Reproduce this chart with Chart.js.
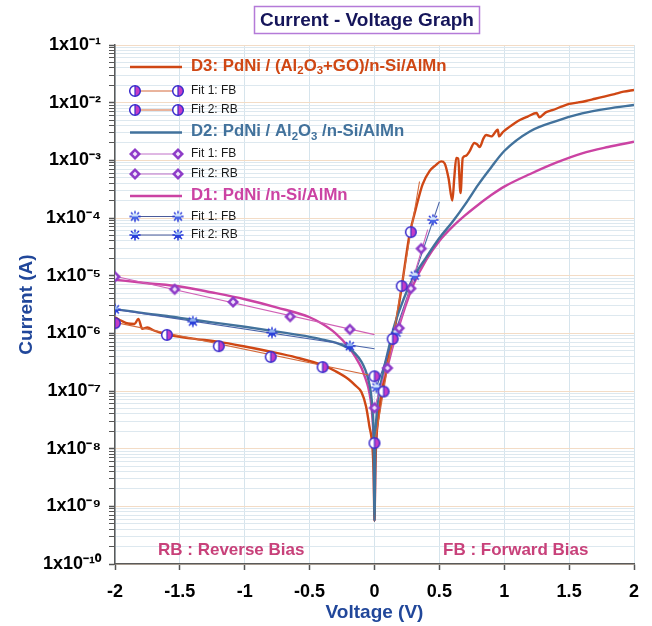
<!DOCTYPE html>
<html><head><meta charset="utf-8">
<script src="https://cdn.jsdelivr.net/npm/chart.js@4.4.1/dist/chart.umd.min.js"></script>
<style>html,body{margin:0;padding:0;background:#fff}#wrap{width:652px;height:626px;position:relative}</style>
</head><body><div id="wrap"><canvas id="c" width="652" height="626"></canvas></div>
<script>
// ---------------- DATA ----------------
const xTickValues = [-2, -1.5, -1, -0.5, 0, 0.5, 1, 1.5, 2];
const yDecades = [-10, -9, -8, -7, -6, -5, -4, -3, -2, -1];

// D1: PdNi /n-Si/AlMn (magenta)
const d1Voltage = [-2, -1.75, -1.5, -1.25, -1.0, -0.75, -0.5, -0.4, -0.3, -0.2, -0.15, -0.1, -0.07, -0.05, -0.03, -0.015, -0.006, 0,
  0.006, 0.015, 0.03, 0.05, 0.075, 0.1, 0.15, 0.2, 0.25, 0.3, 0.4, 0.5, 0.6, 0.7, 0.8, 0.9, 1.0, 1.2, 1.4, 1.6, 1.8, 2.0];
const d1Current = [8.5e-6, 7.4e-6, 6.5e-6, 5.1e-6, 3.9e-6, 2.8e-6, 1.9e-6, 1.45e-6, 1.0e-6, 5.8e-7, 4.0e-7, 2.5e-7, 1.65e-7, 1.2e-7, 7e-8, 3.2e-8, 1e-8, 5.6e-10,
  6.3e-9, 1.6e-8, 4e-8, 8e-8, 1.5e-7, 2.6e-7, 7e-7, 1.6e-6, 3.5e-6, 7e-6, 1.9e-5, 4e-5, 7e-5, 1.12e-4, 1.7e-4, 2.5e-4, 3.5e-4, 5.8e-4, 9.1e-4, 1.32e-3, 1.7e-3, 2.1e-3];

// D2: PdNi / Al2O3 /n-Si/AlMn (steel blue)
const d2Voltage = [-2, -1.9, -1.75, -1.6, -1.5, -1.25, -1.0, -0.75, -0.5, -0.4, -0.3, -0.2, -0.15, -0.1, -0.07, -0.05, -0.03, -0.015, -0.006, 0,
  0.006, 0.015, 0.03, 0.05, 0.075, 0.1, 0.15, 0.2, 0.25, 0.3, 0.4, 0.5, 0.6, 0.7, 0.8, 0.9, 1.0, 1.2, 1.4, 1.6, 1.8, 2.0];
const d2Current = [2.6e-6, 2.45e-6, 2.2e-6, 2.0e-6, 1.85e-6, 1.55e-6, 1.3e-6, 1.07e-6, 8.7e-7, 7.8e-7, 6.9e-7, 5.5e-7, 4.5e-7, 3.2e-7, 2.3e-7, 1.65e-7, 1e-7, 4.5e-8, 1.25e-8, 5.6e-10,
  1.25e-8, 3.5e-8, 8e-8, 1.4e-7, 2.6e-7, 4.5e-7, 1.3e-6, 2.8e-6, 5.4e-6, 9.3e-6, 2.1e-5, 4.5e-5, 8.5e-5, 1.74e-4, 3.8e-4, 7.6e-4, 1.45e-3, 3.2e-3, 4.8e-3, 6.5e-3, 7.9e-3, 9.1e-3];

// D3: PdNi / (Al2O3+GO)/n-Si/AlMn (orange-red)
const d3Voltage = [-2, -1.95, -1.9, -1.85, -1.82, -1.79, -1.75, -1.7, -1.6, -1.4, -1.2, -1.0, -0.8, -0.6, -0.4, -0.3, -0.2, -0.15, -0.1, -0.065, -0.04, -0.015, -0.006, 0,
  0.006, 0.015, 0.03, 0.06, 0.1, 0.14, 0.18, 0.21, 0.24, 0.27, 0.3, 0.32, 0.37, 0.424, 0.47, 0.514, 0.54, 0.57, 0.6, 0.615, 0.63, 0.645, 0.663, 0.68, 0.705, 0.73, 0.77, 0.79, 0.81, 0.84, 0.86, 0.9, 0.95, 0.96, 0.99, 1.04, 1.08, 1.12, 1.18, 1.25, 1.27, 1.32, 1.37, 1.44, 1.5, 1.56, 1.63, 1.7, 1.76, 1.85, 1.92, 2.0];
const d3Current = [1.9e-6, 1.65e-6, 1.48e-6, 1.45e-6, 1.78e-6, 1.2e-6, 1.26e-6, 1.12e-6, 9.5e-7, 8.1e-7, 7.1e-7, 5.9e-7, 4.8e-7, 3.8e-7, 2.8e-7, 2.2e-7, 1.6e-7, 1.26e-7, 9.5e-8, 5.4e-8, 2.5e-8, 1e-8, 3.2e-9, 5.6e-10,
  4e-9, 1.6e-8, 3.5e-8, 1.07e-7, 3.2e-7, 7.9e-7, 2.4e-6, 6.5e-6, 1.9e-5, 5.2e-5, 1.0e-4, 1.5e-4, 3.8e-4, 6.5e-4, 8.2e-4, 9.6e-4, 8.9e-4, 5.0e-4, 2.0e-4, 5.0e-4, 1.1e-3, 1.07e-3, 2.7e-4, 1.1e-3, 1.2e-3, 1.4e-3, 2.0e-3, 1.9e-3, 1.7e-3, 2.4e-3, 2.75e-3, 2.6e-3, 3.4e-3, 2.6e-3, 3.1e-3, 3.8e-3, 4.4e-3, 5.0e-3, 5.75e-3, 6.6e-3, 5.6e-3, 6.8e-3, 7.4e-3, 8.5e-3, 9.5e-3, 1.0e-2, 1.07e-2, 1.17e-2, 1.26e-2, 1.41e-2, 1.55e-2, 1.66e-2];

// Fits (thin lines) and their marker points
const fitD3RBLineV = [-2, 0];            const fitD3RBLineI = [1.55e-6, 1.8e-7];
const fitD3RBPtsV = [-2, -1.6, -1.2, -0.8, -0.4, 0];
const fitD3RBPtsI = [1.5e-6, 9.4e-7, 6.0e-7, 3.9e-7, 2.6e-7, 1.8e-7];
const fitD3FBLineV = [0, 0.347];         const fitD3FBLineI = [1.2e-8, 4.3e-4];
const fitD3FBPtsV = [0, 0.07, 0.14, 0.21, 0.28];
const fitD3FBPtsI = [1.25e-8, 9.8e-8, 8e-7, 6.6e-6, 5.7e-5];

const fitDiaRBLineV = [-2, 0];           const fitDiaRBLineI = [9.8e-6, 9.5e-7];
const fitDiaRBPtsV = [-2, -1.54, -1.09, -0.65, -0.19];
const fitDiaRBPtsI = [9.6e-6, 5.8e-6, 3.5e-6, 1.95e-6, 1.17e-6];
const fitDiaFBLineV = [0, 0.41];         const fitDiaFBLineI = [5.1e-8, 6.3e-5];
const fitDiaFBPtsV = [0, 0.1, 0.19, 0.28, 0.36];
const fitDiaFBPtsI = [5.1e-8, 2.5e-7, 1.23e-6, 6e-6, 2.95e-5];

const fitStarRBLineV = [-2, 0];          const fitStarRBLineI = [2.6e-6, 5.4e-7];
const fitStarRBPtsV = [-2, -1.4, -0.79, -0.19];
const fitStarRBPtsI = [2.6e-6, 1.6e-6, 1.03e-6, 6e-7];
const fitStarFBLineV = [0.015, 0.5];     const fitStarFBLineI = [1.15e-7, 1.9e-4];
const fitStarFBPtsV = [0.015, 0.17, 0.31, 0.45];
const fitStarFBPtsI = [1.15e-7, 1.03e-6, 1.0e-5, 9.3e-5];

// ---------------- STYLE ----------------
const FONT = '"Liberation Sans", Arial, Helvetica, sans-serif';
const C_D3 = '#cf4714', C_D2 = '#42729c', C_D1 = '#cb43a3';
const C_FIT3 = '#d4693a', C_FITDIA = '#d060b6', C_FITSTAR = '#4a64a8';

function mk(w, h, draw) { const c = document.createElement('canvas'); c.width = w; c.height = h; draw(c.getContext('2d')); return c; }
const halfCircle = mk(14, 14, g => {
  const cx = 7, cy = 7, r = 5.3;
  g.beginPath(); g.arc(cx, cy, r, 0, 2 * Math.PI); g.fillStyle = '#fff'; g.fill();
  g.beginPath(); g.moveTo(cx, cy - r); g.arc(cx, cy, r, -Math.PI / 2, Math.PI / 2); g.closePath(); g.fillStyle = '#c43cc6'; g.fill();
  g.beginPath(); g.arc(cx, cy, r, 0, 2 * Math.PI); g.lineWidth = 1.5; g.strokeStyle = '#3a2ccc'; g.stroke();
  g.beginPath(); g.moveTo(cx, cy - r); g.lineTo(cx, cy + r); g.lineWidth = 1.2; g.stroke();
});
const diamond = mk(14, 14, g => {
  g.beginPath(); g.moveTo(7, 1); g.lineTo(13, 7); g.lineTo(7, 13); g.lineTo(1, 7); g.closePath(); g.fillStyle = '#8e3cc8'; g.fill();
  g.beginPath(); g.moveTo(7, 4.6); g.lineTo(9.4, 7); g.lineTo(7, 9.4); g.lineTo(4.6, 7); g.closePath(); g.fillStyle = '#efe2fb'; g.fill();
});
function starMk(topC, botC) {
  return mk(14, 14, g => {
    const cx = 7, cy = 7;
    g.strokeStyle = '#2434d8'; g.lineWidth = 1.5;
    for (let k = 0; k < 8; k++) { const a = k * Math.PI / 4; g.beginPath(); g.moveTo(cx + 2 * Math.cos(a), cy + 2 * Math.sin(a)); g.lineTo(cx + 5.6 * Math.cos(a), cy + 5.6 * Math.sin(a)); g.stroke(); }
    g.beginPath(); g.arc(cx, cy, 3.2, Math.PI, 2 * Math.PI); g.fillStyle = topC; g.fill();
    g.beginPath(); g.arc(cx, cy, 3.2, 0, Math.PI); g.fillStyle = botC; g.fill();
  });
}
const star1 = starMk('#cfe2fa', '#4a66e6');
const star2 = starMk('#8fb0f0', '#2a40d8');

const pts = (V, I) => V.map((v, i) => ({ x: v, y: I[i] }));
const curve = (label, V, I, color, order) => ({ label, data: pts(V, I), borderColor: color, backgroundColor: color, borderWidth: 2.4, pointRadius: 0, cubicInterpolationMode: 'monotone', order });
const fitLine = (label, V, I, color) => ({ label, data: pts(V, I), borderColor: color, borderWidth: 1.1, pointRadius: 0, order: 5 });
const marks = (label, V, I, img) => ({ label, data: pts(V, I), showLine: false, pointStyle: img, pointRadius: 6, order: 1 });

const supMap = { '-': '\u207B', '0': '\u2070', '1': '\u00B9', '2': '\u00B2', '3': '\u00B3', '4': '\u2074', '5': '\u2075', '6': '\u2076', '7': '\u2077', '8': '\u2078', '9': '\u2079' };
const sup = s => String(s).split('').map(c => supMap[c]).join('');

// rich text with "_x" subscripts
function drawRich(ctx, str, x, y, size, color, weight) {
  let cx = x;
  ctx.fillStyle = color; ctx.textBaseline = 'middle'; ctx.textAlign = 'left';
  for (let i = 0; i < str.length; i++) {
    let ch = str[i], sub = false;
    if (ch === '_') { ch = str[++i]; sub = true; }
    const s = sub ? size * 0.68 : size;
    ctx.font = weight + ' ' + s + 'px ' + FONT;
    ctx.fillText(ch, cx, sub ? y + size * 0.3 : y);
    cx += ctx.measureText(ch).width;
  }
  return cx;
}

const legendRows = [
  { kind: 'line', color: C_D3, text: 'D3: PdNi / (Al_2O_3+GO)/n-Si/AlMn', y: 66 },
  { kind: 'fit', img: halfCircle, color: C_FIT3, text: 'Fit 1: FB', y: 91 },
  { kind: 'fit', img: halfCircle, color: C_FIT3, text: 'Fit 2: RB', y: 110 },
  { kind: 'line', color: C_D2, text: 'D2: PdNi / Al_2O_3 /n-Si/AlMn', y: 131.5 },
  { kind: 'fit', img: diamond, color: '#c070c8', text: 'Fit 1: FB', y: 154 },
  { kind: 'fit', img: diamond, color: '#c070c8', text: 'Fit 2: RB', y: 174 },
  { kind: 'line', color: C_D1, text: 'D1: PdNi /n-Si/AlMn', y: 195 },
  { kind: 'fit', img: star1, color: '#4a5a9a', text: 'Fit 1: FB', y: 216.5 },
  { kind: 'fit', img: star2, color: '#4a5a9a', text: 'Fit 2: RB', y: 235 }
];

const decorPlugin = {
  id: 'decor',
  afterDatasetsDraw(chart) {
    const ctx = chart.ctx;
    ctx.save();
    // title box
    ctx.fillStyle = '#fff'; ctx.fillRect(254, 6, 226, 28);
    ctx.strokeStyle = '#b47ad8'; ctx.lineWidth = 1.5; ctx.strokeRect(254.5, 6.5, 225, 27);
    ctx.font = 'bold 19px ' + FONT; ctx.fillStyle = '#15155a'; ctx.textAlign = 'center'; ctx.textBaseline = 'middle';
    ctx.fillText('Current - Voltage Graph', 367, 20.5);
    // legend
    legendRows.forEach(r => {
      if (r.kind === 'line') {
        ctx.strokeStyle = r.color; ctx.lineWidth = 2.5; ctx.beginPath(); ctx.moveTo(130, r.y + 1); ctx.lineTo(182, r.y + 1); ctx.stroke();
        drawRich(ctx, r.text, 191, r.y, 16.8, r.color, 'bold');
      } else {
        ctx.strokeStyle = r.color; ctx.lineWidth = 1; ctx.beginPath(); ctx.moveTo(135, r.y); ctx.lineTo(178, r.y); ctx.stroke();
        ctx.drawImage(r.img, 135 - r.img.width / 2, r.y - r.img.height / 2);
        ctx.drawImage(r.img, 178 - r.img.width / 2, r.y - r.img.height / 2);
        drawRich(ctx, r.text, 191, r.y, 12, '#1a1a1a', 'normal');
      }
    });
    // bias annotations
    ctx.font = 'bold 17px ' + FONT; ctx.fillStyle = '#c8417a'; ctx.textAlign = 'left'; ctx.textBaseline = 'middle';
    ctx.fillText('RB : Reverse Bias', 158, 550);
    ctx.fillText('FB : Forward Bias', 443, 550);
    ctx.restore();
  }
};

new Chart(document.getElementById('c'), {
  type: 'line',
  data: {
    datasets: [
      curve('D2', d2Voltage, d2Current, C_D2, 10),
      curve('D3', d3Voltage, d3Current, C_D3, 11),
      curve('D1', d1Voltage, d1Current, C_D1, 12),
      fitLine('D3 Fit 2: RB', fitD3RBLineV, fitD3RBLineI, C_FIT3),
      fitLine('D3 Fit 1: FB', fitD3FBLineV, fitD3FBLineI, C_FIT3),
      fitLine('Fit 2: RB (diamond)', fitDiaRBLineV, fitDiaRBLineI, C_FITDIA),
      fitLine('Fit 1: FB (diamond)', fitDiaFBLineV, fitDiaFBLineI, C_FITDIA),
      fitLine('Fit 2: RB (star)', fitStarRBLineV, fitStarRBLineI, C_FITSTAR),
      fitLine('Fit 1: FB (star)', fitStarFBLineV, fitStarFBLineI, C_FITSTAR),
      marks('m1', fitD3RBPtsV, fitD3RBPtsI, halfCircle),
      marks('m2', fitD3FBPtsV, fitD3FBPtsI, halfCircle),
      marks('m3', fitDiaRBPtsV, fitDiaRBPtsI, diamond),
      marks('m4', fitDiaFBPtsV, fitDiaFBPtsI, diamond),
      marks('m5', fitStarRBPtsV, fitStarRBPtsI, star2),
      marks('m6', fitStarFBPtsV, fitStarFBPtsI, star1)
    ]
  },
  options: {
    responsive: false, animation: false, devicePixelRatio: 1,
    layout: { padding: { left: 0, right: 18, top: 45, bottom: 0 } },
    plugins: { legend: { display: false }, tooltip: { enabled: false }, title: { display: false } },
    scales: {
      x: {
        type: 'linear', min: -2, max: 2,
        afterBuildTicks: s => { s.ticks = xTickValues.map(v => ({ value: v })); },
        afterFit: s => { s.height = 62; },
        ticks: { font: { family: FONT, size: 18, weight: 'bold' }, color: '#000', padding: 11, autoSkip: false, maxRotation: 0, callback: v => String(v) },
        grid: { color: '#d6e4ec', lineWidth: 1, tickLength: 6, tickColor: '#555', tickWidth: 1.5 },
        border: { display: true, color: '#5a5a5a', width: 1.5 },
        title: { display: true, text: 'Voltage (V)', color: '#21479a', font: { family: FONT, size: 19, weight: 'bold' }, padding: { top: 0, bottom: 2 } }
      },
      y: {
        type: 'logarithmic', min: 1e-10, max: 1e-1,
        afterBuildTicks: s => {
          const t = [];
          yDecades.forEach(e => {
            t.push({ value: Math.pow(10, e), major: true, exp: e });
            if (e < -1) for (let m = 2; m <= 9; m++) t.push({ value: m * Math.pow(10, e), major: false });
          });
          s.ticks = t.sort((a, b) => a.value - b.value);
        },
        afterFit: s => { s.width = 115; },
        ticks: {
          font: { family: FONT, size: 18, weight: 'bold' }, color: '#000', padding: 8, autoSkip: false,
          callback: (v, i, ticks) => ticks[i].major ? '1x10' + sup(Math.round(Math.log10(v))) : ''
        },
        grid: {
          color: c => (c.tick && c.tick.major) ? '#f3dcc6' : '#dde8ef', lineWidth: 1, tickLength: 6,
          tickColor: '#555', tickWidth: c => (c.tick && c.tick.major) ? 1.5 : 1
        },
        border: { display: true, color: '#5a5a5a', width: 1.5 },
        title: { display: true, text: 'Current (A)', color: '#21479a', font: { family: FONT, size: 19, weight: 'bold' }, padding: { top: 15, bottom: 0 } }
      }
    }
  },
  plugins: [decorPlugin]
});
</script></body></html>
